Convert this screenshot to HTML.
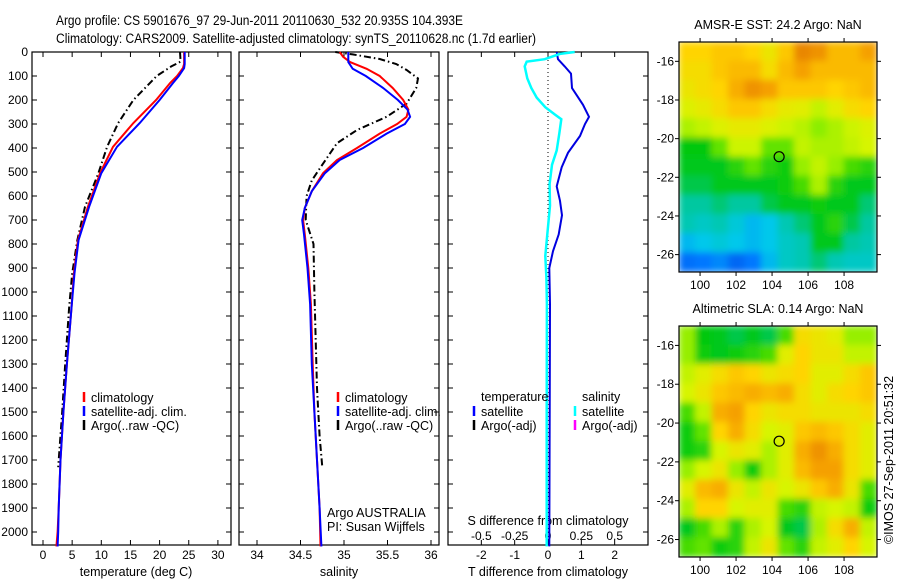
<!DOCTYPE html>
<html><head><meta charset="utf-8"><style>
body{margin:0;background:#fff}
svg{display:block}
text{font-family:"Liberation Sans",sans-serif;fill:#000}
</style></head><body>
<svg id="fig" width="900" height="580" viewBox="0 0 900 580" xmlns="http://www.w3.org/2000/svg">
<defs>
<filter id="blurT" filterUnits="userSpaceOnUse" x="679" y="42" width="198" height="230"><feGaussianBlur stdDeviation="3.5" edgeMode="duplicate"/></filter>
<filter id="blurB" filterUnits="userSpaceOnUse" x="679" y="326" width="198" height="231"><feGaussianBlur stdDeviation="3.5" edgeMode="duplicate"/></filter>
<clipPath id="clipT"><rect x="679" y="42" width="198" height="230"/></clipPath>
<clipPath id="clipB"><rect x="679" y="326" width="198" height="231"/></clipPath>
</defs>
<text x="56" y="25" font-size="13.5" textLength="407" lengthAdjust="spacingAndGlyphs">Argo profile: CS 5901676_97 29-Jun-2011 20110630_532 20.935S 104.393E</text>
<text x="56" y="43" font-size="13.5" textLength="480" lengthAdjust="spacingAndGlyphs">Climatology: CARS2009. Satellite-adjusted climatology: synTS_20110628.nc (1.7d earlier)</text>
<g id="g"></g>
</svg>
<script>
// ---- data ----
const tDepth = [0,50,67,100,129,200,296,395,505,645,783,922,1061,1300,1500,1700,1900,2000,2060];
const tClim  = [24.2,24.2,24.0,23.0,21.8,19.4,15.5,12.0,9.8,7.7,6.0,5.3,4.9,4.1,3.5,3.0,2.7,2.5,2.3];
const tSat   = [24.3,24.3,24.2,23.3,22.3,20.0,16.6,12.7,10.0,7.9,6.1,5.4,4.9,4.1,3.5,3.0,2.7,2.6,2.5];
const argoTDepth = [0,40,60,100,200,296,395,505,645,783,922,1061,1300,1500,1730];
const argoT      = [23.5,23.6,22.0,19.5,15.5,12.9,11.0,9.5,7.2,5.9,5.0,4.5,3.8,3.3,2.6];
const sDepth = [0,20,42,70,100,150,200,240,270,300,340,400,450,505,580,650,700,760,900,1050,1300,1500,1700,1900,2060];
const sClim  = [34.95,34.99,35.07,35.26,35.41,35.56,35.68,35.74,35.72,35.61,35.41,35.15,34.92,34.76,34.63,34.55,34.53,34.55,34.59,34.62,34.64,34.66,34.69,34.72,34.73];
const sSat   = [35.05,35.05,35.05,35.10,35.25,35.45,35.62,35.73,35.76,35.70,35.49,35.22,34.95,34.78,34.63,34.55,34.52,34.54,34.58,34.61,34.63,34.66,34.69,34.72,34.74];
const argoSDepth = [0,10,29,50,75,110,150,215,270,325,380,465,535,600,700,800,1000,1400,1600,1730];
const argoS      = [34.90,35.10,35.41,35.60,35.72,35.85,35.83,35.72,35.49,35.15,34.92,34.76,34.63,34.57,34.56,34.65,34.66,34.69,34.72,34.75];
const dDepth = [0,30,60,90,150,180,220,270,300,350,420,480,560,620,680,760,830,900,1050,1500,2060];
const dT     = [0.26,0.30,0.50,0.69,0.72,0.86,1.05,1.23,1.11,0.96,0.60,0.41,0.26,0.36,0.42,0.32,0.15,0.04,0.06,0.05,0.04];
const dSDepth = [0,8,30,40,60,110,150,190,230,260,280,340,410,470,550,640,760,850,940,1050,1500,2060];
const dS      = [0.20,0.09,-0.025,-0.16,-0.175,-0.155,-0.125,-0.085,-0.02,0.05,0.10,0.085,0.065,0.03,0.012,0.015,-0.005,-0.02,-0.012,-0.008,-0.01,-0.01];
const depthTicks = [0,100,200,300,400,500,600,700,800,900,1000,1100,1200,1300,1400,1500,1600,1700,1800,1900,2000];
const tTicks = [0,5,10,15,20,25,30];
const sTicks = [34,34.5,35,35.5,36];
const dTTicks = [-2,-1,0,1,2];
const dSTickLabels = ["-0.5","-0.25","0","0.25","0.5"];
const lonTicks = [100,102,104,106,108];
const latTicks = [-16,-18,-20,-22,-24,-26];
const sstGrid = [
[0.70,0.70,0.72,0.72,0.70,0.66,0.72,0.82,0.80,0.74,0.74,0.78],
[0.68,0.68,0.72,0.74,0.74,0.68,0.74,0.78,0.74,0.74,0.74,0.74],
[0.66,0.68,0.70,0.76,0.80,0.78,0.72,0.72,0.72,0.70,0.72,0.74],
[0.63,0.65,0.68,0.72,0.72,0.68,0.65,0.64,0.60,0.64,0.68,0.70],
[0.58,0.60,0.63,0.65,0.65,0.63,0.61,0.59,0.55,0.58,0.61,0.63],
[0.45,0.45,0.52,0.61,0.61,0.52,0.52,0.60,0.58,0.58,0.60,0.62],
[0.44,0.44,0.44,0.48,0.52,0.48,0.46,0.56,0.60,0.56,0.50,0.48],
[0.42,0.42,0.44,0.44,0.44,0.44,0.46,0.50,0.58,0.48,0.44,0.44],
[0.38,0.38,0.40,0.38,0.38,0.42,0.44,0.44,0.46,0.44,0.44,0.40],
[0.36,0.34,0.36,0.32,0.28,0.30,0.36,0.40,0.44,0.48,0.42,0.38],
[0.28,0.30,0.32,0.30,0.28,0.30,0.34,0.36,0.44,0.44,0.38,0.36],
[0.18,0.20,0.22,0.16,0.20,0.28,0.34,0.36,0.40,0.36,0.34,0.34]];
const slaGrid = [
[0.56,0.45,0.44,0.42,0.44,0.42,0.50,0.68,0.66,0.64,0.56,0.56],
[0.56,0.46,0.44,0.46,0.48,0.50,0.64,0.70,0.66,0.66,0.60,0.60],
[0.60,0.64,0.68,0.72,0.70,0.66,0.68,0.70,0.64,0.64,0.68,0.72],
[0.62,0.66,0.72,0.74,0.76,0.74,0.76,0.68,0.64,0.68,0.70,0.72],
[0.50,0.60,0.76,0.78,0.70,0.66,0.68,0.68,0.66,0.66,0.66,0.68],
[0.46,0.52,0.70,0.76,0.68,0.62,0.64,0.72,0.74,0.72,0.68,0.64],
[0.46,0.48,0.62,0.66,0.64,0.58,0.64,0.76,0.80,0.76,0.68,0.64],
[0.56,0.62,0.66,0.56,0.46,0.58,0.64,0.74,0.78,0.78,0.68,0.64],
[0.64,0.74,0.76,0.66,0.60,0.66,0.62,0.66,0.72,0.76,0.66,0.50],
[0.58,0.70,0.70,0.62,0.64,0.64,0.50,0.48,0.60,0.62,0.60,0.46],
[0.44,0.50,0.58,0.48,0.58,0.62,0.44,0.42,0.58,0.68,0.76,0.60],
[0.50,0.52,0.46,0.48,0.60,0.66,0.52,0.48,0.60,0.64,0.70,0.62]];
const argoLon = 104.393, argoLat = -20.935;

// ---- helpers ----
const NS="http://www.w3.org/2000/svg";
const G=document.getElementById('g');
function mk(tag,attrs,parent){const e=document.createElementNS(NS,tag);for(const k in attrs)e.setAttribute(k,attrs[k]);(parent||G).appendChild(e);return e;}
function txt(x,y,s,size,anchor,parent){const e=mk('text',{x:x,y:y,'font-size':size||12,'text-anchor':anchor||'start'},parent);e.textContent=s;return e;}
const Y=d=>52+d*0.24;
const xT=v=>43+v*5.83;
const xS=v=>257+(v-34)*87;
const xD=v=>548+v*33.33;
const xDS=v=>548+v*4*33.33;
const PB=545;
function line(xs,ys,fx,color,w,dash,name){
  const pts=xs.map((v,i)=>fx(v).toFixed(1)+','+Y(ys[i]).toFixed(1)).join(' ');
  const e=mk('polyline',{points:pts,fill:'none',stroke:color,'stroke-width':w,'stroke-dasharray':dash||'none'});
  
  
}
function frame(x0,x1,name){
  const e=mk('rect',{x:x0,y:52,width:x1-x0,height:PB-52,fill:'none',stroke:'#000','stroke-width':1.2});
  
  
  depthTicks.forEach(d=>{mk('line',{x1:x0,x2:x0+5,y1:Y(d),y2:Y(d),stroke:'#000'});mk('line',{x1:x1,x2:x1-5,y1:Y(d),y2:Y(d),stroke:'#000'});});
}
function xticks(vals,fx,labels){
  vals.forEach((v,i)=>{const x=fx(v);mk('line',{x1:x,x2:x,y1:PB,y2:PB-5,stroke:'#000'});mk('line',{x1:x,x2:x,y1:52,y2:57,stroke:'#000'});
    const t=txt(x,559,labels?labels[i]:String(v),12,'middle');
    
    });
}
function legend(x,y,items){
  items.forEach((it,i)=>{mk('line',{x1:x,x2:x,y1:y+i*14-10,y2:y+i*14,stroke:it[0],'stroke-width':2.5});
    const t=txt(x+7,y+i*14,it[1],12.5);
    
    });
}

// ---- panel 1: temperature ----
frame(32,231,'temperature-panel');
depthTicks.forEach(d=>{const t=txt(28,Y(d)+4,String(d),12,'end');
  
  });
xticks(tTicks,xT);
let at=txt(136,576,'temperature (deg C)',12.5,'middle');


line(argoT,argoTDepth,xT,'#000',2,'7,3,1.5,3','argo-temperature-line');
line(tClim,tDepth,xT,'#f00',2,null,'climatology-temperature-line');
line(tSat,tDepth,xT,'#00f',2,null,'satellite-temperature-line');
legend(84,402,[['#f00','climatology'],['#00f','satellite-adj. clim.'],['#000','Argo(..raw -QC)']]);

// ---- panel 2: salinity ----
frame(239,439,'salinity-panel');
xticks(sTicks,xS);
at=txt(339,576,'salinity',12.5,'middle');


line(argoS,argoSDepth,xS,'#000',2,'7,3,1.5,3','argo-salinity-line');
line(sClim,sDepth,xS,'#f00',2,null,'climatology-salinity-line');
line(sSat,sDepth,xS,'#00f',2,null,'satellite-salinity-line');
legend(338,402,[['#f00','climatology'],['#00f','satellite-adj. clim.'],['#000','Argo(..raw -QC)']]);
at=txt(327,517,'Argo AUSTRALIA',12.5);


at=txt(327,531,'PI: Susan Wijffels',12.5);



// ---- panel 3: differences ----
frame(448,648,'difference-panel');
xticks(dTTicks,xD);
dSTickLabels.forEach((l,i)=>{const t=txt(xD(dTTicks[i]),540,l,12,'middle');
  
  });
at=txt(548,525,'S difference from climatology',12.5,'middle');


at=txt(548,576,'T difference from climatology',12.5,'middle');


mk('line',{x1:xD(0),x2:xD(0),y1:52,y2:PB,stroke:'#000','stroke-dasharray':'1,3'});
line(dT,dDepth,xD,'#0000e0',2,null,'t-diff-satellite-line');
line(dS,dSDepth,xDS,'#00ffff',2.5,null,'s-diff-satellite-line');
at=txt(481,401,'temperature',12.5);


at=txt(582,401,'salinity',12.5);


legend(474,416,[['#00f','satellite'],['#000','Argo(-adj)']]);
legend(575,416,[['#00ffff','satellite'],['#ff00ff','Argo(-adj)']]);

// ---- maps ----
const stops=[[0,[0,40,200]],[0.2,[0,120,255]],[0.3,[0,200,235]],[0.38,[0,200,160]],[0.45,[0,200,10]],[0.55,[140,238,0]],[0.62,[215,245,0]],[0.7,[255,212,0]],[0.78,[245,160,0]],[0.86,[220,110,0]]];
function cmap(v){for(let i=1;i<stops.length;i++){if(v<=stops[i][0]){const a=stops[i-1],b=stops[i],t=(v-a[0])/(b[0]-a[0]);return 'rgb('+a[1].map((c,k)=>Math.round(c+(b[1][k]-c)*t)).join(',')+')';}}return 'rgb(220,110,0)';}
function map(y0,h,grid,title,fid,cid,name){
  const x0=679,w=198,lon0=98.83,lon1=109.83,lat0=-15.0,lat1=-26.9;
  const lx=v=>x0+(v-lon0)/(lon1-lon0)*w, ly=v=>y0+(v-lat0)/(lat1-lat0)*h;
  const cg=mk('g',{'clip-path':'url(#'+cid+')'});
  const g=mk('g',{filter:'url(#'+fid+')'},cg);
  
  
  const R=grid.length,C=grid[0].length,cw=w/C,ch=h/R;
  grid.forEach((row,r)=>row.forEach((v,c)=>{const e=mk('rect',{x:x0+c*cw-0.5,y:y0+r*ch-0.5,width:cw+1,height:ch+1,fill:cmap(v)},g);
    
    }));
  const f=mk('rect',{x:x0,y:y0,width:w,height:h,fill:'none',stroke:'#000','stroke-width':1.2});
  
  
  lonTicks.forEach(v=>{const x=lx(v);mk('line',{x1:x,x2:x,y1:y0,y2:y0-4,stroke:'#000'});mk('line',{x1:x,x2:x,y1:y0+h,y2:y0+h+4,stroke:'#000'});
    const t=txt(x,y0+h+17,String(v),12,'middle');
    
    });
  latTicks.forEach(v=>{const y=ly(v);mk('line',{x1:x0,x2:x0-4,y1:y,y2:y,stroke:'#000'});mk('line',{x1:x0+w,x2:x0+w+4,y1:y,y2:y,stroke:'#000'});
    const t=txt(x0-5,y+4,String(v),12,'end');
    
    });
  const c=mk('circle',{cx:lx(argoLon),cy:ly(argoLat),r:5,fill:'none',stroke:'#000','stroke-width':1.2});
  
  
  const t=txt(x0+w/2,y0-13,title,12.5,'middle');
  
  
}
map(42,230,sstGrid,'AMSR-E SST: 24.2 Argo: NaN','blurT','clipT','sst-map');
map(326,231,slaGrid,'Altimetric SLA: 0.14 Argo: NaN','blurB','clipB','sla-map');
const cp=txt(0,0,'©IMOS 27-Sep-2011 20:51:32',12.5,'middle');
cp.setAttribute('transform','translate(893,460) rotate(-90)');


</script>
</body></html>
